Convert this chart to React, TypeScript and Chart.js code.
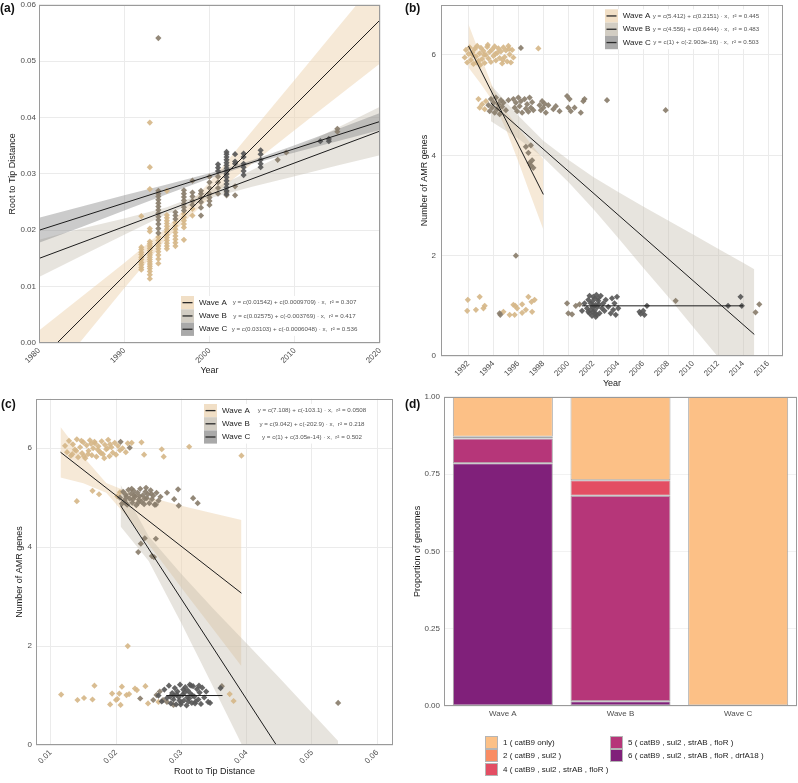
import React, { useEffect, useRef } from 'react';
import { Chart, registerables } from 'chart.js';

Chart.register(...registerables);

type Pt = [number, number];

const FONT = '"Liberation Sans", Arial, Helvetica, sans-serif';
const TICK_COLOR = '#4d4d4d';
const TITLE_COLOR = '#1a1a1a';
const GRID_COLOR = '#ebebeb';
const FRAME_COLOR = '#9a9a9a';

const WAVE_NAMES = ['Wave A', 'Wave B', 'Wave C'];
const POINT_COLORS = ['rgba(214,183,137,0.92)', 'rgba(138,126,108,0.92)', 'rgba(88,88,88,0.92)'];
const BAND_COLORS = ['rgba(238,212,175,0.5)', 'rgba(195,188,172,0.4)', 'rgba(140,140,140,0.45)'];
const KEY_COLORS = ['#f1dfc6', '#d2cdc3', '#a9a9a9'];

// ---------------- Panel (a): root-to-tip distance vs year ----------------
const A_YEAR_TICKS = [1980, 1990, 2000, 2010, 2020];
const A_YEAR_LABELS = ['1980', '1990', '2000', '2010', '2020'];
const A_RTT_TICKS = [0, 0.01, 0.02, 0.03, 0.04, 0.05, 0.06];
const A_RTT_LABELS = ['0.00', '0.01', '0.02', '0.03', '0.04', '0.05', '0.06'];

const A_WAVE_A_COLUMNS: [number, number[]][] = [
  [1992, [0.0130, 0.0134, 0.0139, 0.0143, 0.0148, 0.0152, 0.0157, 0.0161, 0.0166, 0.0170, 0.0225]],
  [1993, [0.0114, 0.0121, 0.0127, 0.0132, 0.0136, 0.0140, 0.0144, 0.0148, 0.0152, 0.0156, 0.0160, 0.0164, 0.0168, 0.0172, 0.0176, 0.0180, 0.0198, 0.0203, 0.0273, 0.0312, 0.0391]],
  [1994, [0.0141, 0.0149, 0.0156, 0.0162, 0.0167, 0.0172, 0.0177, 0.0182, 0.0188]],
  [1995, [0.0167, 0.0172, 0.0177, 0.0182, 0.0187, 0.0192, 0.0197, 0.0202, 0.0207, 0.0212, 0.0217, 0.0222, 0.0227, 0.0270]],
  [1996, [0.0172, 0.0178, 0.0184, 0.0190, 0.0196, 0.0202, 0.0208, 0.0214]],
  [1997, [0.0183, 0.0205, 0.0211, 0.0217, 0.0223, 0.0229]],
  [1998, [0.0226, 0.0238]],
];
const A_WAVE_B_COLUMNS: [number, number[]][] = [
  [1994, [0.0195, 0.0203, 0.0211, 0.0218, 0.0224, 0.0230, 0.0236, 0.0242, 0.0248, 0.0254, 0.0260, 0.0265, 0.0270, 0.0541]],
  [1996, [0.0220, 0.0226, 0.0232]],
  [1997, [0.0235, 0.0241, 0.0247, 0.0253, 0.0259, 0.0265, 0.0271]],
  [1998, [0.0245, 0.0252, 0.0260, 0.0267, 0.0288]],
  [1999, [0.0226, 0.0240, 0.0250, 0.0258, 0.0265, 0.0270]],
  [2000, [0.0245, 0.0252, 0.0258, 0.0265, 0.0275, 0.0285, 0.0295]],
  [2001, [0.0265, 0.0275, 0.0285, 0.0295]],
  [2002, [0.0262, 0.0268, 0.0300]],
  [2003, [0.0262, 0.0278]],
  [2008, [0.0325]],
  [2009, [0.0338]],
  [2015, [0.0375, 0.0380]],
];
const A_WAVE_C_COLUMNS: [number, number[]][] = [
  [2001, [0.0305, 0.0311, 0.0317]],
  [2002, [0.0264, 0.0270, 0.0276, 0.0282, 0.0288, 0.0294, 0.0300, 0.0305, 0.0310, 0.0315, 0.0320, 0.0325, 0.0330, 0.0335, 0.0339]],
  [2003, [0.0318, 0.0322, 0.0335]],
  [2004, [0.0298, 0.0305, 0.0312, 0.0318, 0.0330, 0.0336]],
  [2006, [0.0312, 0.0318, 0.0325, 0.0335, 0.0342]],
  [2013, [0.0358]],
  [2014, [0.0358, 0.0362]],
];

const A_LINE_YEARS = [1980, 2020];
const A_LINE_WAVE_A = [-0.0032, 0.0573];
const A_LINE_WAVE_B = [0.0150, 0.0376];
const A_LINE_WAVE_C = [0.0200, 0.0393];

const A_BAND_YEARS = [1980, 1985, 1990, 1995, 2000, 2005, 2010, 2015, 2020];
const A_BAND_A_LO = [-0.0086, 0.0005, 0.0097, 0.0186, 0.0257, 0.0318, 0.0378, 0.0437, 0.0496];
const A_BAND_A_HI = [0.0022, 0.0082, 0.0142, 0.0205, 0.0285, 0.0376, 0.0467, 0.0559, 0.0650];
const A_BAND_B_LO = [0.0117, 0.0155, 0.0192, 0.0229, 0.0257, 0.0277, 0.0296, 0.0315, 0.0333];
const A_BAND_B_HI = [0.0183, 0.0203, 0.0221, 0.0241, 0.0270, 0.0307, 0.0344, 0.0382, 0.0419];
const A_BAND_C_LO = [0.0178, 0.0206, 0.0235, 0.0264, 0.0292, 0.0318, 0.0338, 0.0358, 0.0378];
const A_BAND_C_HI = [0.0222, 0.0242, 0.0262, 0.0281, 0.0301, 0.0324, 0.0351, 0.0379, 0.0408];

const A_EQUATIONS = [
  'y = c(0.01542) + c(0.0009709) · x,  r² = 0.307',
  'y = c(0.02575) + c(-0.003769) · x,  r² = 0.417',
  'y = c(0.03103) + c(-0.0006048) · x,  r² = 0.536',
];

// ---------------- Panel (b): AMR genes vs year ----------------
const B_YEAR_TICKS = [1992, 1994, 1996, 1998, 2000, 2002, 2004, 2006, 2008, 2010, 2012, 2014, 2016];
const B_YEAR_LABELS = ['1992', '1994', '1996', '1998', '2000', '2002', '2004', '2006', '2008', '2010', '2012', '2014', '2016'];
const B_GENE_TICKS = [0, 2, 4, 6];
const B_GENE_LABELS = ['0', '2', '4', '6'];

const B_WAVE_A_POINTS: Pt[] = [
  [1991.7, 5.95], [1991.8, 6.1], [1991.9, 5.85], [1992.0, 6.02], [1992.1, 6.15], [1992.2, 5.9], [1992.3, 6.05], [1992.4, 5.82],
  [1992.5, 6.12], [1992.6, 5.97], [1992.7, 6.18], [1992.8, 5.88], [1992.9, 6.03], [1993.0, 6.14], [1993.1, 5.92], [1993.2, 6.08],
  [1993.3, 5.84], [1993.4, 6.0], [1993.5, 6.16], [1993.6, 5.93], [1993.7, 6.06], [1993.8, 5.86], [1993.9, 6.11], [1994.0, 5.98],
  [1994.1, 6.17], [1994.2, 5.89], [1994.3, 6.04], [1994.4, 6.13], [1994.5, 5.94], [1994.6, 6.07], [1994.7, 5.83], [1994.8, 6.15],
  [1994.9, 5.96], [1995.0, 6.09], [1995.1, 5.87], [1995.2, 6.18], [1995.3, 6.01], [1995.4, 5.85], [1995.5, 6.1], [1995.6, 5.95],
  [1992.35, 6.0], [1992.95, 5.8], [1993.55, 6.2], [1994.15, 6.02], [1994.75, 5.9], [1995.25, 6.12], [1993.25, 6.0], [1992.65, 5.85],
  [1997.6, 6.13],
  [1992.8, 5.12], [1992.9, 4.95], [1993.1, 5.02], [1993.3, 4.92], [1993.4, 5.08],
  [1991.9, 0.9], [1991.95, 1.12], [1992.6, 0.92], [1992.9, 1.18], [1993.2, 0.95], [1993.3, 1.0], [1994.8, 0.88], [1995.3, 0.82],
  [1995.7, 0.82], [1995.75, 1.0], [1995.9, 0.95], [1996.3, 1.03], [1996.3, 0.86], [1996.6, 0.92], [1996.8, 1.18], [1997.05, 1.08],
  [1997.1, 0.88], [1997.3, 1.12], [1995.6, 1.02],
];
const B_WAVE_B_POINTS: Pt[] = [
  [1993.6, 5.0], [1993.7, 4.88], [1993.8, 5.12], [1993.9, 4.95], [1994.0, 5.05], [1994.1, 4.85], [1994.2, 5.15], [1994.3, 4.92],
  [1994.4, 5.02], [1994.5, 4.82], [1994.6, 5.1], [1994.7, 4.97], [1994.8, 5.05], [1995.0, 4.9], [1995.2, 5.1], [1995.6, 5.12],
  [1995.7, 4.95], [1995.8, 5.05], [1995.9, 4.88], [1996.0, 5.15], [1996.1, 4.98], [1996.2, 5.08], [1996.3, 4.85], [1996.5, 5.12],
  [1996.6, 4.93], [1996.7, 5.02], [1996.8, 4.87], [1996.9, 5.15], [1997.0, 4.95], [1997.1, 5.06], [1997.2, 4.9], [1997.7, 5.0],
  [1997.8, 4.9], [1997.9, 5.08], [1998.0, 4.95], [1998.1, 5.03], [1998.2, 4.85], [1998.4, 5.0], [1998.8, 4.92], [1999.0, 4.98],
  [1999.3, 4.88], [1999.9, 5.18], [2000.0, 4.95], [2000.1, 5.12], [2000.2, 4.88], [2000.5, 4.95], [2001.0, 4.85], [2001.2, 5.08],
  [2001.3, 5.12], [2003.1, 5.1], [2007.8, 4.9],
  [1996.6, 4.17], [1996.8, 4.05], [1997.0, 4.2], [1997.1, 3.9], [1997.0, 3.8], [1997.2, 3.75], [1996.9, 3.85],
  [1995.8, 2.0], [1996.2, 6.14],
  [1994.5, 0.85], [1994.55, 0.82], [1999.9, 1.05], [2000.0, 0.85], [2000.3, 0.83], [2000.6, 1.0], [2000.9, 1.03], [2008.6, 1.1],
  [2015.0, 0.87], [2015.3, 1.03],
];
const B_WAVE_C_POINTS: Pt[] = [
  [2001.5, 0.95], [2001.6, 1.12], [2001.7, 0.85], [2001.8, 1.05], [2001.9, 0.8], [2002.0, 1.18], [2002.1, 0.9], [2002.2, 1.02],
  [2002.3, 0.82], [2002.4, 1.15], [2001.7, 1.2], [2001.8, 0.92], [2001.9, 1.08], [2002.0, 0.88], [2002.1, 1.14], [2002.2, 0.78],
  [2002.3, 0.97], [2002.4, 1.1], [2002.5, 0.85], [2002.6, 1.2], [2002.7, 0.95], [2002.8, 1.05], [2002.9, 0.9], [2003.0, 1.12],
  [2003.2, 0.98], [2003.4, 0.85], [2003.5, 1.15], [2003.6, 0.92], [2003.7, 1.05], [2003.8, 0.82], [2003.9, 1.18], [2004.0, 0.95],
  [2001.6, 0.88], [2002.05, 1.0], [2002.25, 1.22], [2001.95, 0.98], [2002.15, 0.84], [2002.45, 1.03], [2005.7, 0.88], [2005.8, 0.84],
  [2006.0, 0.9], [2006.1, 0.82], [2006.3, 1.0], [2012.8, 1.0], [2013.8, 1.18], [2013.9, 1.0], [2001.1, 0.9], [2001.3, 1.05],
];

const B_LINE_A_X = [1992, 1998];
const B_LINE_A_Y = [6.18, 3.22];
const B_LINE_B_X = [1993.8, 2014.9];
const B_LINE_B_Y = [5.04, 0.43];
const B_LINE_C_X = [2001.1, 2014.0];
const B_LINE_C_Y = [1.0, 1.0];

const B_BAND_A_X = [1992, 1993, 1994, 1995, 1996, 1997, 1998];
const B_BAND_A_LO = [5.75, 5.42, 5.06, 4.52, 3.87, 3.19, 2.52];
const B_BAND_A_HI = [6.61, 5.96, 5.32, 4.88, 4.55, 4.23, 3.92];
const B_BAND_B_X = [1993.8, 1996, 1998, 2000, 2002, 2004, 2006, 2008, 2010, 2012, 2014, 2014.9];
const B_BAND_B_LO = [4.68, 4.33, 3.95, 3.47, 2.93, 2.35, 1.76, 1.18, 0.58, -0.02, -0.60, -0.87];
const B_BAND_B_HI = [5.40, 4.79, 4.29, 3.91, 3.57, 3.27, 2.98, 2.70, 2.42, 2.14, 1.86, 1.73];

const B_EQUATIONS = [
  'y = c(5.412) + c(0.2151) · x,  r² = 0.445',
  'y = c(4.556) + c(0.6444) · x,  r² = 0.483',
  'y = c(1) + c(-2.903e-16) · x,  r² = 0.503',
];

// ---------------- Panel (c): AMR genes vs root-to-tip distance ----------------
const C_RTT_TICKS = [0.01, 0.02, 0.03, 0.04, 0.05, 0.06];
const C_RTT_LABELS = ['0.01', '0.02', '0.03', '0.04', '0.05', '0.06'];
const C_GENE_TICKS = [0, 2, 4, 6];
const C_GENE_LABELS = ['0', '2', '4', '6'];

const C_WAVE_A_POINTS: Pt[] = [
  [0.0122, 6.05], [0.0125, 5.92], [0.0128, 6.15], [0.0131, 5.85], [0.0134, 6.08], [0.0137, 5.97], [0.0140, 6.18], [0.0142, 5.82],
  [0.0145, 6.02], [0.0148, 5.9], [0.0150, 6.12], [0.0153, 5.8], [0.0155, 6.06], [0.0158, 5.95], [0.0160, 6.16], [0.0163, 5.86],
  [0.0165, 6.0], [0.0168, 6.1], [0.0170, 5.83], [0.0173, 6.04], [0.0175, 5.93], [0.0178, 6.14], [0.0180, 5.88], [0.0183, 6.07],
  [0.0185, 5.98], [0.0188, 6.17], [0.0190, 5.84], [0.0193, 6.02], [0.0195, 5.91], [0.0198, 6.11], [0.0200, 5.87], [0.0203, 6.05],
  [0.0206, 5.96], [0.0139, 5.95], [0.0151, 5.84], [0.0162, 6.09], [0.0172, 5.97], [0.0182, 5.8], [0.0191, 6.08], [0.0147, 6.15],
  [0.0157, 5.88], [0.0167, 6.13], [0.0177, 5.9], [0.0187, 6.0], [0.0133, 5.88], [0.0210, 6.0], [0.0215, 5.92], [0.0218, 6.1],
  [0.0224, 6.11], [0.0239, 6.12], [0.0243, 5.87], [0.0270, 5.98], [0.0273, 5.83], [0.0312, 6.03], [0.0392, 5.85],
  [0.0140, 4.93], [0.0164, 5.14], [0.0174, 5.07], [0.0202, 5.03], [0.0206, 5.11],
  [0.0218, 2.0],
  [0.0116, 1.02], [0.0141, 0.91], [0.0151, 0.95], [0.0164, 0.92], [0.0167, 1.2], [0.0191, 0.82], [0.0194, 1.04], [0.0200, 0.91],
  [0.0202, 0.93], [0.0207, 0.81], [0.0205, 1.04], [0.0209, 1.18], [0.0216, 1.01], [0.0220, 1.03], [0.0229, 1.14], [0.0232, 1.11],
  [0.0245, 1.19], [0.0249, 0.84], [0.0265, 0.87], [0.0374, 1.03], [0.0380, 0.89],
];
const C_WAVE_B_POINTS: Pt[] = [
  [0.0206, 5.0], [0.0209, 4.88], [0.0211, 5.12], [0.0213, 4.95], [0.0215, 5.06], [0.0217, 4.86], [0.0219, 5.16], [0.0221, 4.98],
  [0.0223, 5.08], [0.0225, 4.9], [0.0227, 5.14], [0.0229, 5.02], [0.0231, 4.85], [0.0233, 5.1], [0.0235, 4.96], [0.0237, 5.18],
  [0.0239, 4.92], [0.0241, 5.05], [0.0243, 4.87], [0.0245, 5.12], [0.0247, 4.99], [0.0249, 5.07], [0.0251, 4.89], [0.0253, 5.15],
  [0.0255, 4.97], [0.0257, 5.04], [0.0259, 4.86], [0.0262, 5.1], [0.0265, 4.94], [0.0268, 5.02], [0.0216, 5.02], [0.0226, 4.97],
  [0.0236, 5.03], [0.0246, 5.2], [0.0214, 4.9], [0.0224, 5.18], [0.0234, 4.9], [0.0244, 4.98], [0.0254, 5.08], [0.0228, 5.05],
  [0.0278, 5.1], [0.0289, 4.97], [0.0295, 5.17], [0.0296, 4.84], [0.0318, 4.99], [0.0325, 4.89], [0.0261, 4.86],
  [0.0207, 6.13], [0.0221, 6.01],
  [0.0234, 3.9], [0.0238, 4.07], [0.0244, 4.18], [0.0255, 3.82], [0.0261, 4.17], [0.0258, 3.8],
  [0.0237, 0.94], [0.0257, 0.91], [0.0262, 1.01], [0.0267, 1.08], [0.0272, 0.91], [0.0278, 0.87], [0.0288, 0.81], [0.0362, 1.19],
  [0.0540, 0.85],
];
const C_WAVE_C_POINTS: Pt[] = [
  [0.0265, 1.0], [0.0270, 0.88], [0.0274, 1.12], [0.0278, 0.95], [0.0281, 1.2], [0.0284, 0.84], [0.0286, 1.05], [0.0288, 0.92],
  [0.0290, 1.15], [0.0292, 0.82], [0.0294, 1.08], [0.0296, 0.97], [0.0298, 1.22], [0.0300, 0.86], [0.0302, 1.02], [0.0304, 0.9],
  [0.0306, 1.17], [0.0308, 0.8], [0.0310, 1.1], [0.0312, 0.94], [0.0314, 1.04], [0.0316, 0.85], [0.0318, 1.19], [0.0320, 0.98],
  [0.0322, 0.88], [0.0324, 1.13], [0.0326, 0.92], [0.0328, 1.06], [0.0330, 0.83], [0.0332, 1.16], [0.0335, 0.96], [0.0338, 1.08],
  [0.0341, 0.87], [0.0344, 0.85], [0.0289, 1.0], [0.0297, 0.9], [0.0303, 1.12], [0.0309, 0.96], [0.0315, 1.2], [0.0321, 0.84],
  [0.0293, 1.02], [0.0299, 0.82], [0.0305, 1.06], [0.0311, 0.88], [0.0317, 1.0], [0.0327, 1.2], [0.0283, 0.98], [0.0313, 1.22],
  [0.0360, 1.15],
];

const C_LINE_A_X = [0.0115, 0.0392];
const C_LINE_A_Y = [5.92, 3.07];
const C_LINE_B_X = [0.0207, 0.054];
const C_LINE_B_Y = [4.84, -1.92];
const C_LINE_C_X = [0.0277, 0.0363];
const C_LINE_C_Y = [1.0, 1.0];

const C_BAND_A_X = [0.0115, 0.015, 0.0185, 0.022, 0.026, 0.030, 0.034, 0.0392];
const C_BAND_A_LO = [5.41, 5.29, 5.10, 4.57, 3.88, 3.18, 2.49, 1.59];
const C_BAND_A_HI = [6.43, 5.83, 5.30, 5.11, 4.98, 4.84, 4.71, 4.55];
const C_BAND_B_X = [0.0207, 0.025, 0.030, 0.035, 0.040, 0.045, 0.054];
const C_BAND_B_LO = [4.42, 3.72, 2.46, 1.14, -0.19, -1.54, -3.92];
const C_BAND_B_HI = [5.26, 4.22, 3.46, 2.74, 2.05, 1.36, 0.08];

const C_EQUATIONS = [
  'y = c(7.108) + c(-103.1) · x,  r² = 0.0508',
  'y = c(9.042) + c(-202.9) · x,  r² = 0.218',
  'y = c(1) + c(3.05e-14) · x,  r² = 0.502',
];

// ---------------- Panel (d): proportion of genomes ----------------
const D_WAVES = ['Wave A', 'Wave B', 'Wave C'];
const D_CLASS_LABELS = [
  '1 ( catB9 only)',
  '2 ( catB9 , sul2 )',
  '4 ( catB9 , sul2 , strAB , floR )',
  '5 ( catB9 , sul2 , strAB , floR )',
  '6 ( catB9 , sul2 , strAB , floR , drfA18 )',
];
const D_CLASS_COLORS = ['#fcc086', '#f98c63', '#e34e63', '#b63679', '#80207a'];
const D_CLASS1 = [0.129, 0.270, 1.0];
const D_CLASS2 = [0.006, 0.0, 0.0];
const D_CLASS4 = [0.0, 0.050, 0.0];
const D_CLASS5 = [0.080, 0.665, 0.0];
const D_CLASS6 = [0.785, 0.015, 0.0];
const D_PROP_TICKS = [0, 0.25, 0.5, 0.75, 1];
const D_PROP_LABELS = ['0.00', '0.25', '0.50', '0.75', '1.00'];

// ---------------- helpers ----------------
const zip = (xs: number[], ys: number[]) => xs.map((x, i) => ({ x, y: ys[i] }));
const cols = (c: [number, number[]][]): Pt[] => c.flatMap(([x, ys]) => ys.map((y) => [x, y] as Pt));
const toXY = (p: Pt[]) => p.map(([x, y]) => ({ x, y }));

const framePlugin = {
  id: 'frame',
  afterDraw(chart: any) {
    const { left, top, right, bottom } = chart.chartArea;
    const ctx = chart.ctx;
    ctx.save();
    ctx.strokeStyle = FRAME_COLOR;
    ctx.lineWidth = 1;
    ctx.strokeRect(Math.round(left) + 0.5, Math.round(top) + 0.5, Math.round(right - left) - 1, Math.round(bottom - top) - 1);
    ctx.restore();
  },
};

function legendPlugin(spec: any, equations: string[]) {
  return {
    id: 'waveLegend',
    afterDatasetsDraw(chart: any) {
      const ctx = chart.ctx;
      ctx.save();
      ctx.fillStyle = '#ffffff';
      ctx.fillRect(spec.x, spec.y, spec.w, spec.rowH * 3);
      for (let i = 0; i < 3; i++) {
        const top = spec.y + i * spec.rowH;
        const cy = top + spec.rowH / 2;
        ctx.fillStyle = KEY_COLORS[i];
        ctx.fillRect(spec.x, top, spec.keyW, spec.rowH);
        ctx.strokeStyle = '#2a2a2a';
        ctx.lineWidth = 1.3;
        ctx.beginPath();
        ctx.moveTo(spec.x + 1.5, cy);
        ctx.lineTo(spec.x + spec.keyW - 1.5, cy);
        ctx.stroke();
        ctx.textBaseline = 'middle';
        ctx.textAlign = 'left';
        ctx.fillStyle = '#222222';
        ctx.font = `8px ${FONT}`;
        ctx.fillText(WAVE_NAMES[i], spec.textX, cy);
        ctx.textAlign = 'center';
        ctx.fillStyle = '#555555';
        ctx.font = `6.2px ${FONT}`;
        ctx.fillText(equations[i], spec.eqCX, cy);
      }
      ctx.restore();
    },
  };
}

function axis(o: any, horizontal: boolean) {
  return {
    type: 'linear',
    min: o.min,
    max: o.max,
    afterBuildTicks: (s: any) => {
      s.ticks = o.ticks.map((v: number) => ({ value: v }));
    },
    afterFit: (s: any) => {
      if (horizontal) s.height = o.size;
      else s.width = o.size;
    },
    ticks: {
      callback: (_v: any, i: number) => o.labels[i],
      autoSkip: false,
      minRotation: horizontal ? 45 : 0,
      maxRotation: horizontal ? 45 : 0,
      padding: o.tickPad,
      color: TICK_COLOR,
      font: { family: FONT, size: 8 },
    },
    grid: { color: GRID_COLOR, lineWidth: 1, drawTicks: false },
    border: { display: false },
    title: {
      display: !!o.title,
      text: o.title,
      color: TITLE_COLOR,
      font: { family: FONT, size: 9 },
      padding: { top: o.titlePad, bottom: o.titlePad },
    },
  };
}

function regressionChart(canvas: HTMLCanvasElement, p: any) {
  const datasets: any[] = [];
  p.waves.forEach((w: any, i: number) => {
    if (w.bandX) {
      datasets.push({
        type: 'line', data: zip(w.bandX, w.bandHi), fill: '+1', backgroundColor: BAND_COLORS[i],
        borderColor: 'transparent', borderWidth: 0, pointRadius: 0, order: 3.3 - i * 0.1,
      });
      datasets.push({
        type: 'line', data: zip(w.bandX, w.bandLo), fill: false,
        borderColor: 'transparent', borderWidth: 0, pointRadius: 0, order: 3.3 - i * 0.1,
      });
    }
  });
  p.waves.forEach((w: any, i: number) => {
    datasets.push({
      type: 'scatter', data: toXY(w.points), backgroundColor: POINT_COLORS[i], borderColor: POINT_COLORS[i],
      pointStyle: 'rectRot', pointRadius: 3.1, pointBorderWidth: 0, pointHoverRadius: 0, order: 2.3 - i * 0.1,
    });
  });
  p.waves.forEach((w: any) => {
    datasets.push({
      type: 'line', data: zip(w.lineX, w.lineY), borderColor: '#1c1c1c', borderWidth: 1,
      pointRadius: 0, fill: false, order: 1,
    });
  });
  return new Chart(canvas, {
    type: 'scatter',
    data: { datasets },
    options: {
      responsive: false,
      animation: false,
      events: [],
      layout: { padding: p.padding },
      plugins: { legend: { display: false }, tooltip: { enabled: false } },
      scales: { x: axis(p.x, true), y: axis(p.y, false) } as any,
    },
    plugins: [legendPlugin(p.legend, p.equations), framePlugin],
  } as any);
}

const PANEL_A = {
  padding: { left: 0, right: 20, top: 0, bottom: 0 },
  x: { min: 1980, max: 2020, ticks: A_YEAR_TICKS, labels: A_YEAR_LABELS, size: 37, tickPad: 3, title: 'Year', titlePad: 4 },
  y: { min: 0, max: 0.06, ticks: A_RTT_TICKS, labels: A_RTT_LABELS, size: 39, tickPad: 3, title: 'Root to Tip Distance', titlePad: 7 },
  waves: [
    { points: cols(A_WAVE_A_COLUMNS), lineX: A_LINE_YEARS, lineY: A_LINE_WAVE_A, bandX: A_BAND_YEARS, bandLo: A_BAND_A_LO, bandHi: A_BAND_A_HI },
    { points: cols(A_WAVE_B_COLUMNS), lineX: A_LINE_YEARS, lineY: A_LINE_WAVE_B, bandX: A_BAND_YEARS, bandLo: A_BAND_B_LO, bandHi: A_BAND_B_HI },
    { points: cols(A_WAVE_C_COLUMNS), lineX: A_LINE_YEARS, lineY: A_LINE_WAVE_C, bandX: A_BAND_YEARS, bandLo: A_BAND_C_LO, bandHi: A_BAND_C_HI },
  ],
  legend: { x: 181, y: 299, w: 182, rowH: 13.3, keyW: 13, textX: 199, eqCX: 294.5 },
  equations: A_EQUATIONS,
};

const PANEL_B = {
  padding: { left: 0, right: 15, top: 0, bottom: 0 },
  x: { min: 1989.8, max: 2017.2, ticks: B_YEAR_TICKS, labels: B_YEAR_LABELS, size: 36, tickPad: 3, title: 'Year', titlePad: 3 },
  y: { min: 0, max: 7, ticks: B_GENE_TICKS, labels: B_GENE_LABELS, size: 41, tickPad: 5, title: 'Number of AMR genes', titlePad: 19 },
  waves: [
    { points: B_WAVE_A_POINTS, lineX: B_LINE_A_X, lineY: B_LINE_A_Y, bandX: B_BAND_A_X, bandLo: B_BAND_A_LO, bandHi: B_BAND_A_HI },
    { points: B_WAVE_B_POINTS, lineX: B_LINE_B_X, lineY: B_LINE_B_Y, bandX: B_BAND_B_X, bandLo: B_BAND_B_LO, bandHi: B_BAND_B_HI },
    { points: B_WAVE_C_POINTS, lineX: B_LINE_C_X, lineY: B_LINE_C_Y },
  ],
  legend: { x: 205, y: 14.3, w: 160, rowH: 13.3, keyW: 13, textX: 222.7, eqCX: 306 },
  equations: B_EQUATIONS,
};

const PANEL_C = {
  padding: { left: 0, right: 7, top: 0, bottom: 0 },
  x: { min: 0.00775, max: 0.0624, ticks: C_RTT_TICKS, labels: C_RTT_LABELS, size: 38, tickPad: 3, title: 'Root to Tip Distance', titlePad: 6 },
  y: { min: 0, max: 7, ticks: C_GENE_TICKS, labels: C_GENE_LABELS, size: 36, tickPad: 4, title: 'Number of AMR genes', titlePad: 14 },
  waves: [
    { points: C_WAVE_A_POINTS, lineX: C_LINE_A_X, lineY: C_LINE_A_Y, bandX: C_BAND_A_X, bandLo: C_BAND_A_LO, bandHi: C_BAND_A_HI },
    { points: C_WAVE_B_POINTS, lineX: C_LINE_B_X, lineY: C_LINE_B_Y, bandX: C_BAND_B_X, bandLo: C_BAND_B_LO, bandHi: C_BAND_B_HI },
    { points: C_WAVE_C_POINTS, lineX: C_LINE_C_X, lineY: C_LINE_C_Y },
  ],
  legend: { x: 204, y: 14, w: 170, rowH: 13.2, keyW: 13, textX: 222, eqCX: 312 },
  equations: C_EQUATIONS,
};

function barChart(canvas: HTMLCanvasElement) {
  const series = [D_CLASS6, D_CLASS5, D_CLASS4, D_CLASS2, D_CLASS1];
  const colorIdx = [4, 3, 2, 1, 0];
  return new Chart(canvas, {
    type: 'bar',
    data: {
      labels: D_WAVES,
      datasets: series.map((data, k) => ({
        label: D_CLASS_LABELS[colorIdx[k]],
        data,
        backgroundColor: D_CLASS_COLORS[colorIdx[k]],
        borderColor: '#a8a8a8',
        borderWidth: 1,
        borderSkipped: false,
        barPercentage: 0.85,
        categoryPercentage: 1,
      })),
    },
    options: {
      responsive: false,
      animation: false,
      events: [],
      layout: { padding: { left: 0, right: 1, top: 0, bottom: 0 } },
      plugins: { legend: { display: false }, tooltip: { enabled: false } },
      scales: {
        x: {
          stacked: true,
          afterFit: (s: any) => { s.height = 77; },
          ticks: { color: TICK_COLOR, font: { family: FONT, size: 8 }, padding: 3, minRotation: 0, maxRotation: 0 },
          grid: { display: false, drawTicks: false },
          border: { display: false },
        },
        y: {
          stacked: true,
          min: 0,
          max: 1,
          afterBuildTicks: (s: any) => { s.ticks = D_PROP_TICKS.map((v) => ({ value: v })); },
          afterFit: (s: any) => { s.width = 44; },
          ticks: { callback: (_v: any, i: number) => D_PROP_LABELS[i], color: TICK_COLOR, font: { family: FONT, size: 8 }, padding: 4 },
          grid: { color: '#f2f2f2', drawTicks: false },
          border: { display: false },
          title: { display: true, text: 'Proportion of genomes', color: TITLE_COLOR, font: { family: FONT, size: 9 }, padding: { top: 12, bottom: 0 } },
        },
      },
    },
    plugins: [framePlugin],
  } as any);
}

function ChartCanvas({ left, top, width, height, make }: any) {
  const ref = useRef<HTMLCanvasElement>(null);
  useEffect(() => {
    const chart = make(ref.current as HTMLCanvasElement);
    return () => chart.destroy();
  }, []);
  return (
    <canvas ref={ref} width={width} height={height}
      style={{ position: 'absolute', left, top, width, height }} />
  );
}

const panelLabel = (text: string, left: number, top: number) => (
  <div style={{ position: 'absolute', left, top, fontFamily: FONT, fontWeight: 700, fontSize: 12, lineHeight: '14px', color: '#111' }}>
    {text}
  </div>
);

export default function App() {
  const legendRows = D_CLASS_LABELS.map((label, i) => {
    const col = i < 3 ? 0 : 1;
    const row = i < 3 ? i : i - 3;
    return (
      <div key={label} style={{
        position: 'absolute', left: col === 0 ? 485 : 610, top: 736 + row * 13.3, height: 13.3,
        display: 'flex', alignItems: 'center', whiteSpace: 'nowrap',
      }}>
        <div style={{ width: 11, height: 11, background: D_CLASS_COLORS[i], border: '1px solid #b5b5b5' }} />
        <span style={{ marginLeft: 5, fontFamily: FONT, fontSize: 8, color: '#222' }}>{label}</span>
      </div>
    );
  });
  return (
    <div style={{ position: 'absolute', left: 0, top: 0, width: 798, height: 783, background: '#ffffff', overflow: 'hidden' }}>
      <ChartCanvas left={0} top={-3} width={400} height={383} make={(c: HTMLCanvasElement) => regressionChart(c, PANEL_A)} />
      <ChartCanvas left={400} top={-5} width={398} height={397} make={(c: HTMLCanvasElement) => regressionChart(c, PANEL_B)} />
      <ChartCanvas left={0} top={390} width={400} height={393} make={(c: HTMLCanvasElement) => regressionChart(c, PANEL_C)} />
      <ChartCanvas left={400} top={388} width={398} height={395} make={barChart} />
      {panelLabel('(a)', 0, 1)}
      {panelLabel('(b)', 405, 1)}
      {panelLabel('(c)', 1, 397)}
      {panelLabel('(d)', 405, 397)}
      {legendRows}
    </div>
  );
}
